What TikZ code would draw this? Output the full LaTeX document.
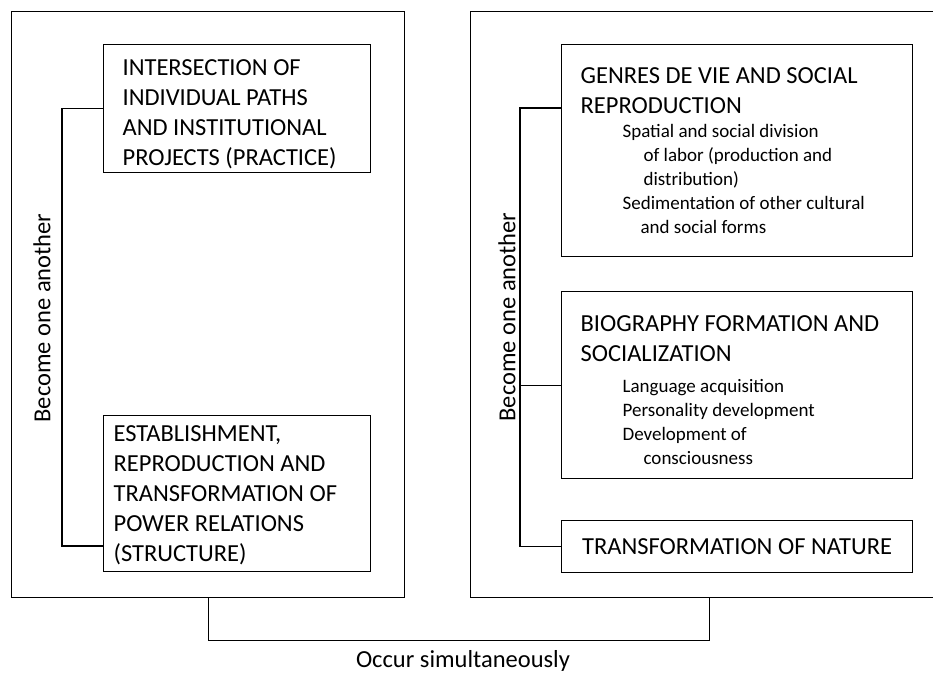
\documentclass[tikz,border=0pt]{standalone}
\usepackage{fontspec}
\setmainfont{Carlito}
\newcommand{\headsize}{\fontsize{24.5}{30}\selectfont}
\newcommand{\itemsize}{\fontsize{19}{24}\selectfont}
\newcommand{\lift}[1]{\vrule width0pt height\dimexpr\fontcharht\font`O+#1\relax}
\tikzset{frame/.style={draw,line width=#1,anchor=north west,inner sep=0pt},frame/.default=1.3pt}
\tikzset{topic/.style={draw,line width=1.2pt,anchor=north west,align=flush left,inner ysep=0pt,inner xsep=#1,font=\headsize,
	execute at begin node={\spaceskip0pt\xspaceskip0pt}},topic/.default=19pt}
\tikzset{link/.style={line width=#1},link/.default=1.2pt}

\begin{document}
\begin{tikzpicture}[x=1pt,y=-1pt]
		\useasboundingbox (0,0) rectangle (933,675);
		\clip (0,0) rectangle (933,675);
		
		% the two frames
		\node [frame,minimum width=393pt,minimum height=586pt] (lframe) at (11,11) {};
		\node [frame,minimum width=478pt,minimum height=586pt] (rframe) at (470,11) {};
		
		% left side
		\node [topic,text width=229pt,minimum width=267pt,minimum height=128pt] (isect) at (103,44)
			{\lift{12pt}INTERSECTION OF\\ INDIVIDUAL PATHS\\ AND INSTITUTIONAL\\ PROJECTS (PRACTICE)};
		\node [topic=10pt,text width=247pt,minimum width=267pt,minimum height=156pt] (power) at (103,415)
			{\lift{4pt}ESTABLISHMENT,\\ REPRODUCTION AND\\ TRANSFORMATION OF\\ POWER RELATIONS\\ (STRUCTURE)};
		\node [rotate=90,font=\headsize] (lsame) at (42,318) {Become one another};
		\coordinate (lbot) at (62,546);
		\draw [link] (isect.west) -| (lbot) -- (power.west |- lbot);
		
		% right side
		\node [topic,text width=313pt,minimum width=351pt,minimum height=212pt] (genres) at (561,44)
			{GENRES DE VIE AND SOCIAL\\ REPRODUCTION\par
			{\itemsize\hspace*{42pt}Spatial and social division\\
			\hspace*{63pt}of labor (production and\\
			\hspace*{63pt}distribution)\\
			\hspace*{42pt}Sedimentation of other cultural\\
			\hspace*{60pt}and social forms\par}};
		\node [topic,text width=313pt,minimum width=351pt,minimum height=187pt] (biog) at (561,291)
			{\lift{11pt}BIOGRAPHY FORMATION AND\\ SOCIALIZATION\par
			{\itemsize\vspace{7pt}\hspace*{42pt}Language acquisition\\
			\hspace*{42pt}Personality development\\
			\hspace*{42pt}Development of\\
			\hspace*{63pt}consciousness\par}};
		\node [draw,line width=1.2pt,anchor=north west,inner ysep=0pt,font=\headsize,minimum width=351pt,minimum height=52pt] (nature) at (561,520)
			{TRANSFORMATION OF NATURE};
		\node [rotate=90,font=\headsize] (rsame) at (507,317) {Become one another};
		\coordinate (rtop) at (520,108);
		\draw [link] (genres.west |- rtop) -- (rtop) |- (nature.west);
		\draw [link] (rtop |- biog.west) -- (biog.west);
		
		% joining the frames
		\draw [link] (lframe.south) -- ++(0,42) -| (rframe.south);
		\node [font=\headsize] (simul) at (463,661) {Occur simultaneously};
	\end{tikzpicture}
\end{document}
